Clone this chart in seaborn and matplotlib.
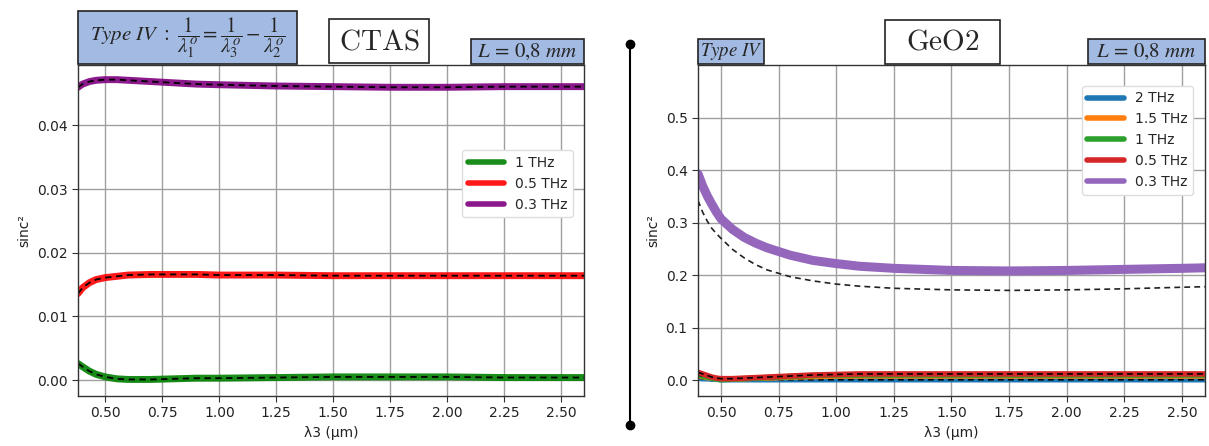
import matplotlib
matplotlib.use("Agg")
import matplotlib.pyplot as plt
from matplotlib.patches import Rectangle
from matplotlib.lines import Line2D
import seaborn as sns

# -------------------------------
# values
# left panel : CTAS crystal
lam3_ctas = [0.38, 0.40, 0.43, 0.46, 0.50, 0.55, 0.60, 0.70, 0.80, 0.90,
             1.00, 1.25, 1.50, 1.75, 2.00, 2.25, 2.50, 2.60]
ctas_1thz = [0.0026, 0.0021, 0.0014, 0.0009, 0.0005, 0.0002, 0.0001, 0.0001, 0.0002, 0.0003,
             0.0003, 0.0004, 0.0005, 0.0005, 0.0005, 0.0004, 0.0004, 0.0004]
ctas_05thz = [0.0136, 0.0145, 0.0153, 0.0158, 0.0161, 0.0163, 0.0165, 0.0166, 0.0166, 0.0166,
              0.0165, 0.0165, 0.0164, 0.0164, 0.0164, 0.0164, 0.0164, 0.0164]
ctas_03thz = [0.0460, 0.0465, 0.0469, 0.0471, 0.0472, 0.0472, 0.0471, 0.0469, 0.0467, 0.0465,
              0.0464, 0.0462, 0.0461, 0.0460, 0.0460, 0.0461, 0.0461, 0.0461]
ctas_labels = ["1 THz", "0.5 THz", "0.3 THz"]
ctas_colors = ["green", "red", "purple"]

# right panel : GeO2
lam3_geo2 = [0.40, 0.42, 0.44, 0.46, 0.48, 0.50, 0.55, 0.60, 0.65, 0.70, 0.80, 0.90,
             1.00, 1.10, 1.25, 1.50, 1.75, 2.00, 2.25, 2.50, 2.60]
geo2_2thz = [0.004, 0.003, 0.003, 0.002, 0.002, 0.001, 0.001, 0.001, 0.001, 0.001, 0.001, 0.001,
             0.001, 0.001, 0.001, 0.001, 0.001, 0.001, 0.001, 0.001, 0.001]
geo2_15thz = [0.008, 0.007, 0.005, 0.004, 0.003, 0.002, 0.002, 0.003, 0.004, 0.004, 0.006, 0.007,
              0.008, 0.008, 0.008, 0.008, 0.008, 0.008, 0.008, 0.008, 0.008]
geo2_1thz = [0.010, 0.008, 0.006, 0.004, 0.002, 0.001, 0.002, 0.003, 0.004, 0.005, 0.007, 0.009,
             0.010, 0.010, 0.010, 0.010, 0.010, 0.010, 0.010, 0.010, 0.010]
geo2_05thz = [0.015, 0.012, 0.009, 0.006, 0.004, 0.003, 0.003, 0.004, 0.005, 0.006, 0.008, 0.010,
              0.011, 0.012, 0.012, 0.012, 0.012, 0.012, 0.012, 0.012, 0.012]
geo2_03thz = [0.393, 0.370, 0.351, 0.335, 0.320, 0.307, 0.287, 0.272, 0.261, 0.252, 0.238, 0.228,
              0.222, 0.217, 0.213, 0.209, 0.208, 0.209, 0.211, 0.213, 0.214]
# dashed black reference curve for 0.3 THz
geo2_03thz_model = [0.342, 0.320, 0.303, 0.289, 0.279, 0.270, 0.249, 0.233, 0.220, 0.210,
                    0.197, 0.189, 0.183, 0.179, 0.175, 0.172, 0.171, 0.172, 0.174, 0.177, 0.178]
geo2_labels = ["2 THz", "1.5 THz", "1 THz", "0.5 THz", "0.3 THz"]
geo2_colors = ["tab:blue", "tab:orange", "tab:green", "tab:red", "tab:purple"]

# -------------------------------
sns.set_style("ticks")
plt.rcParams["font.family"] = ["DejaVu Sans"]
plt.rcParams["font.size"] = 10

W, H = 1209, 446
fig = plt.figure(figsize=(W / 100, H / 100), dpi=100)


def px_axes(x0, y0, x1, y1):
    # pixel box (top-down) -> axes
    return fig.add_axes([x0 / W, 1 - y1 / H, (x1 - x0) / W, (y1 - y0) / H])


def style(ax):
    ax.grid(True, color="#a0a0a0", lw=1)
    ax.tick_params(direction="out", length=4, color="#333333", labelsize=10, labelcolor="#222222")
    for s in ax.spines.values():
        s.set_color("#333333")
        s.set_linewidth(1)
    ax.set_xticks([0.5, 0.75, 1.0, 1.25, 1.5, 1.75, 2.0, 2.25, 2.5])
    ax.set_xlabel("λ3 (µm)", fontsize=10, color="#222222")
    ax.set_ylabel("sinc²", fontsize=10, color="#222222")


ax1 = px_axes(78, 65, 584, 396)
ax2 = px_axes(698, 65, 1205, 396)

# left panel
for ys, lab, c in zip([ctas_1thz, ctas_05thz, ctas_03thz], ctas_labels, ctas_colors):
    sns.lineplot(x=lam3_ctas, y=ys, ax=ax1, color=c, lw=5, label=lab, alpha=0.9)
    sns.lineplot(x=lam3_ctas, y=ys, ax=ax1, color="black", lw=1.3, ls=(0, (3.5, 2.5)), legend=False)
ax1.set_xlim(0.38, 2.6)
ax1.set_ylim(-0.0025, 0.0495)
ax1.set_yticks([0.0, 0.01, 0.02, 0.03, 0.04])
style(ax1)
leg1 = ax1.legend(loc="upper right", bbox_to_anchor=(0.978, 0.743), borderaxespad=0,
                  fontsize=10, handlelength=2.6, framealpha=1, edgecolor="#dddddd")
for h in leg1.get_lines():
    h.set_linewidth(4)

# right panel
for ys, lab, c in zip([geo2_2thz, geo2_15thz, geo2_1thz, geo2_05thz], geo2_labels[:4], geo2_colors[:4]):
    sns.lineplot(x=lam3_geo2, y=ys, ax=ax2, color=c, lw=4, label=lab)
    sns.lineplot(x=lam3_geo2, y=ys, ax=ax2, color="black", lw=1.2, ls=(0, (3.5, 2.5)), legend=False)
sns.lineplot(x=lam3_geo2, y=geo2_03thz, ax=ax2, color=geo2_colors[4], lw=6.5, label=geo2_labels[4])
sns.lineplot(x=lam3_geo2, y=geo2_03thz_model, ax=ax2, color="#222222", lw=1.2,
             ls=(0, (3.5, 2.5)), legend=False)
ax2.set_xlim(0.40, 2.6)
ax2.set_ylim(-0.03, 0.6)
ax2.set_yticks([0.0, 0.1, 0.2, 0.3, 0.4, 0.5])
style(ax2)
leg2 = ax2.legend(loc="upper right", bbox_to_anchor=(0.976, 0.937), borderaxespad=0,
                  fontsize=10, handlelength=2.6, framealpha=1, edgecolor="#dddddd")
for h in leg2.get_lines():
    h.set_linewidth(4)

# -------------------------------
# boxed annotations above the panels
BLUE = "#a3bbe3"


def box(x0, y0, x1, y1, fc, txt, size, mathfont="stix"):
    fig.add_artist(Rectangle((x0 / W, 1 - y1 / H), (x1 - x0) / W, (y1 - y0) / H,
                             transform=fig.transFigure, facecolor=fc,
                             edgecolor="#222222", lw=1.2, zorder=5))
    fig.text((x0 + x1) / 2 / W, 1 - (y0 + y1) / 2 / H, txt, fontsize=size,
             ha="center", va="center", math_fontfamily=mathfont, zorder=6)


box(78, 11, 297, 64, BLUE,
    r"$Type\ IV\ :\ \dfrac{1}{\lambda_1^o}=\dfrac{1}{\lambda_3^o}-\dfrac{1}{\lambda_2^o}$", 15)
box(329, 19, 429, 63, "white", r"$\mathrm{CTAS}$", 21, "cm")
box(471, 39, 584, 64, BLUE, r"$L\,=\,0{,}8\ mm$", 15)
box(698, 39, 764, 64, BLUE, r"$Type\ IV$", 13.5)
box(885, 20, 1000, 64, "white", r"$\mathrm{GeO2}$", 21, "cm")
box(1088, 39, 1205, 64, BLUE, r"$L\,=\,0{,}8\ mm$", 15)

# vertical divider between the two panels
fig.add_artist(Line2D([630 / W, 630 / W], [1 - 44 / H, 1 - 425 / H], transform=fig.transFigure,
                      color="black", lw=1.5, marker="o", markersize=6))

fig.savefig("out.png", dpi=100)
